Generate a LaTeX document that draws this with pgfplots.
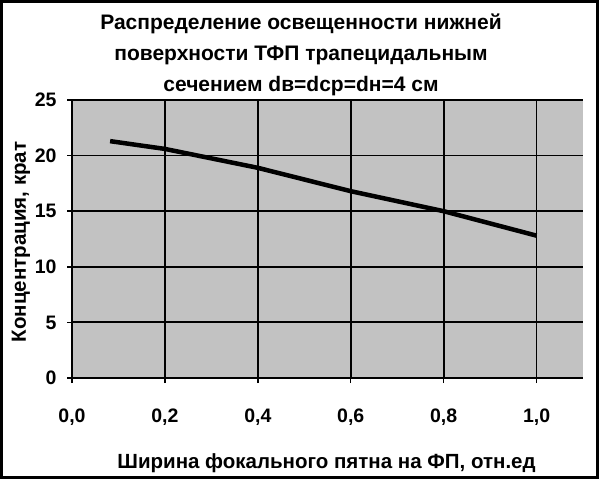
\documentclass[border=0pt]{standalone}
\usepackage{pgfplots}
\pgfplotsset{compat=1.18}
\usepackage{fontspec}
\setmainfont{Liberation Sans}

\begin{document}
\begin{tikzpicture}[x=1bp,y=1bp]
\begin{axis}[
  at={(0,0)},anchor=south west,
  scale only axis,width=511bp,height=278bp,
  xmin=0,xmax=1.1,ymin=0,ymax=25,
  xtick={0,0.2,0.4,0.6,0.8,1.0},
  ytick={0,5,10,15,20,25},
  axis lines=left,
  axis line style={black,line width=1.5bp,-},
  tick align=outside,
  major tick length=5bp,
  tick style={black,line width=1.5bp},
  grid=major,
  grid style={black,line width=1.8bp},
  axis background/.style={fill=black!24},
  /pgf/number format/assume math mode=true,
  /pgf/number format/use comma,
  xticklabel={\pgfmathprintnumber[fixed,zerofill,precision=1]{\tick}},
  tick label style={font=\fontsize{19.5bp}{22bp}\selectfont\bfseries},
  xticklabel style={yshift=-22bp},
  yticklabel style={xshift=-7bp},
  xlabel={Ширина фокального пятна на ФП, отн.ед},
  ylabel={Концентрация, крат},
  label style={font=\fontsize{20.5bp}{24bp}\selectfont\bfseries},
  xlabel style={at={(axis description cs:0.5,0)},anchor=center,yshift=-85bp,xshift=-1bp},
  ylabel style={at={(axis description cs:0,0.5)},anchor=center,yshift=51bp,xshift=-3bp},
  clip=false,
]
\addplot[black,line width=4.5bp] coordinates {
  (0.082,21.3) (0.2,20.6) (0.4,18.9) (0.6,16.8) (0.8,15.0) (1.0,12.8)
};
\end{axis}
\node[font=\fontsize{21bp}{31bp}\selectfont\bfseries,align=center,anchor=base]
  at (229,286) {Распределение освещенности нижней\\поверхности ТФП трапецидальным\\сечением dв=dср=dн=4 см};
\draw[black,line width=3bp] (-70.5,-99.5) rectangle (525.5,376.5);
\end{tikzpicture}
\end{document}
